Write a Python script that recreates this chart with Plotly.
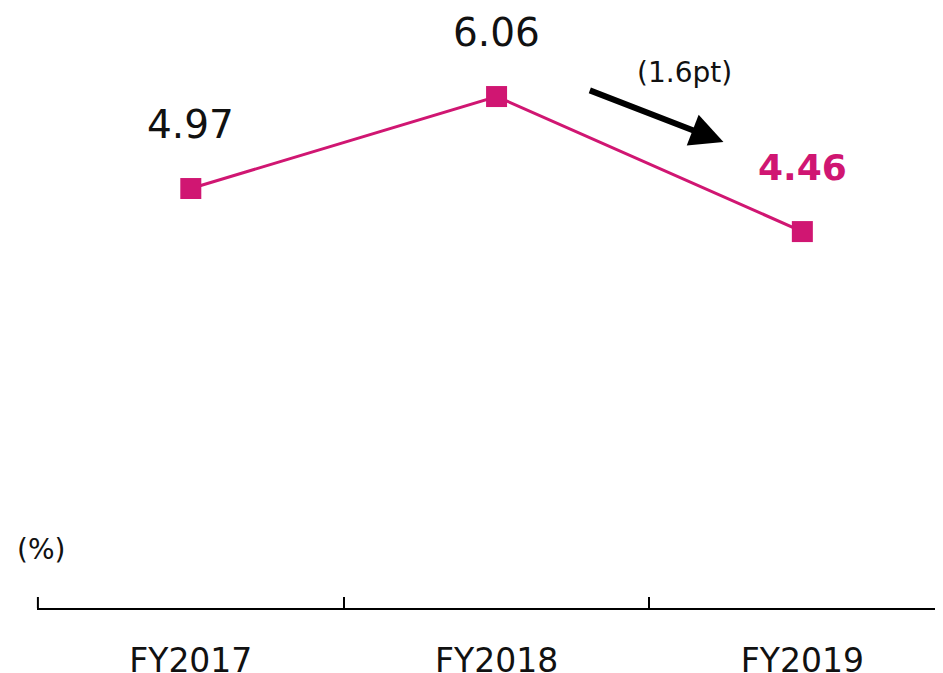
import plotly.graph_objects as go

# ── Données ───────────────────────────────────────────────────────────────────
years  = ["FY2017", "FY2018", "FY2019"]
values = [4.97, 6.06, 4.46]
labels = ["4.97", "6.06", "<b>4.46</b>"]
change = "(1.6pt)"
unit   = "(%)"

PINK = "#D01672"
FONT = "DejaVu Sans"
# ─────────────────────────────────────────────────────────────────────────────

fig = go.Figure()

fig.add_trace(go.Scatter(
    x=years,
    y=values,
    mode="lines+markers",
    line=dict(color=PINK, width=3),
    marker=dict(symbol="square", size=21, color=PINK),
    showlegend=False,
    hoverinfo="skip",
))

# étiquettes de valeur au-dessus des points
label_colors = ["#111111", "#111111", PINK]
label_sizes  = [39, 39, 36]
for yr, v, txt, c, s in zip(years, values, labels, label_colors, label_sizes):
    fig.add_annotation(
        x=yr, y=v, text=txt, showarrow=False,
        yshift=64, font=dict(family=FONT, size=s, color=c),
    )

# flèche de variation FY2018 -> FY2019
fig.add_annotation(
    x=1.742, y=5.52, ax=1.30, ay=6.14,
    xref="x", yref="y", axref="x", ayref="y",
    showarrow=True, arrowhead=2, arrowsize=1.1, arrowwidth=6,
    arrowcolor="black", text="",
)
fig.add_annotation(
    x=1.614, y=6.345, xref="x", yref="y", text=change, showarrow=False,
    font=dict(family=FONT, size=28, color="#111111"),
)

# unité
fig.add_annotation(
    x=-0.0243, y=0.098, xref="paper", yref="paper",
    xanchor="left", yanchor="middle",
    text=unit, showarrow=False,
    font=dict(family=FONT, size=28, color="#111111"),
)

# graduation de gauche (coupée par le bord du repère)
fig.add_shape(
    type="line", xref="paper", x0=0.001, x1=0.001,
    yref="y", ysizemode="pixel", yanchor=0, y0=0, y1=11,
    line=dict(color="black", width=2),
)

# la page HTML ajoute une marge de 8 px autour de la figure
fig.update_layout(
    width=935,
    height=665,
    margin=dict(l=29, r=0, t=0, b=65),
    plot_bgcolor="white",
    paper_bgcolor="white",
    font=dict(family=FONT, size=33, color="#111111"),
    xaxis=dict(
        type="category",
        range=[-0.503, 2.46],
        automargin=False,
        showline=True, linecolor="black", linewidth=2,
        ticks="inside", tickson="boundaries", ticklen=11,
        tickwidth=2, tickcolor="black",
        showgrid=False, zeroline=False,
        tickfont=dict(family=FONT, size=33, color="#111111"),
        ticklabelstandoff=22,
    ),
    yaxis=dict(range=[0, 7.109], visible=False, automargin=False),
)

fig.write_html("out.html")
